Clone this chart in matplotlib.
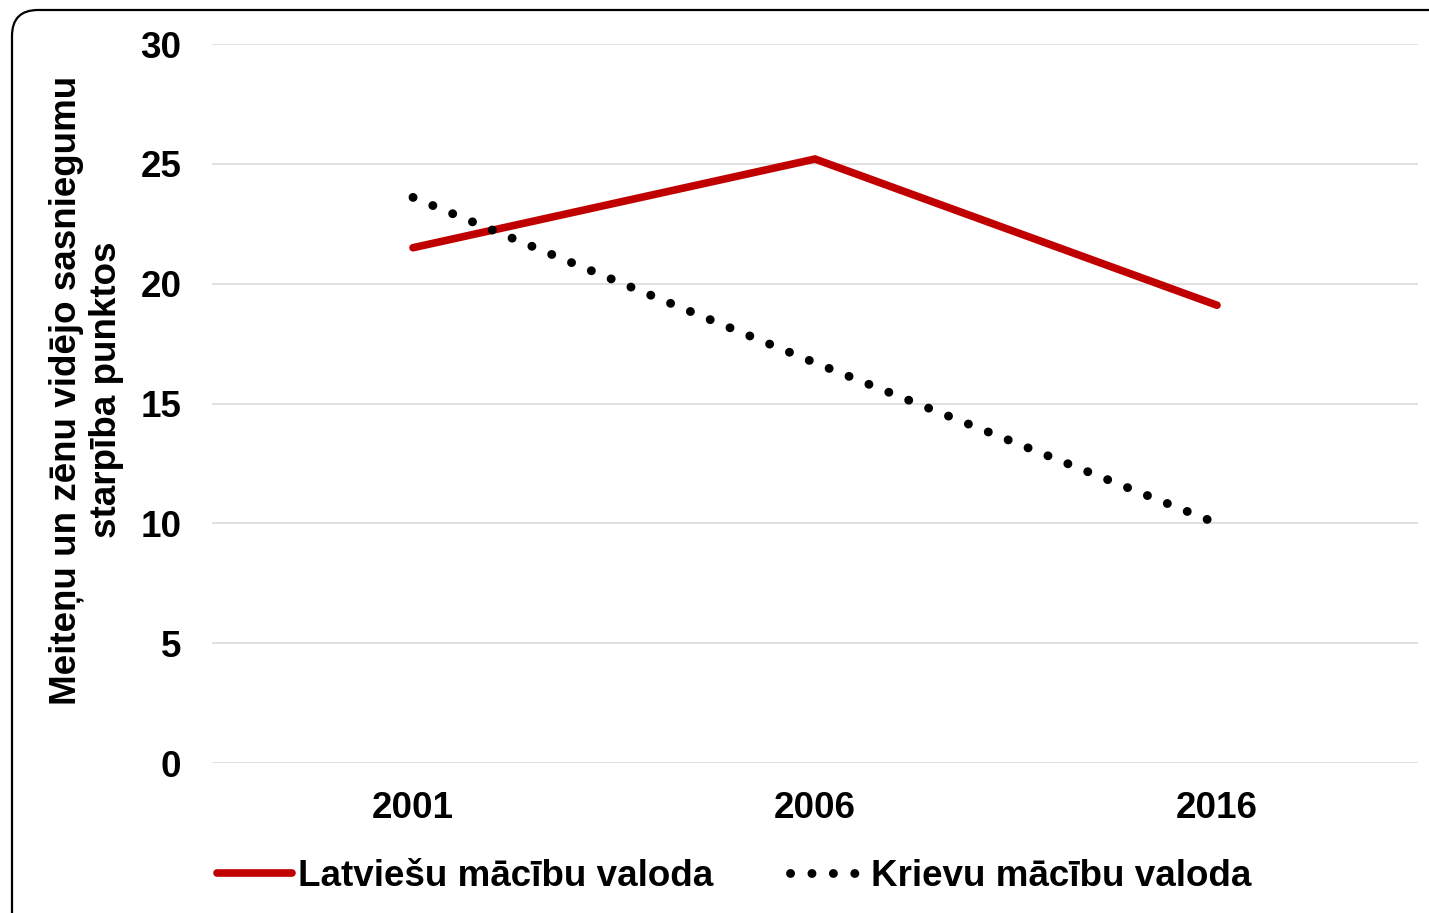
import matplotlib
matplotlib.use("Agg")
import matplotlib.pyplot as plt
from matplotlib.patches import FancyBboxPatch
from matplotlib.transforms import IdentityTransform
from matplotlib.lines import Line2D

years = ["2001", "2006", "2016"]
latvian = [21.5, 25.2, 19.1]
russian = [23.6, 16.7, 10.0]
series_names = ["Latviešu mācību valoda", "Krievu mācību valoda"]
y_label = "Meiteņu un zēnu vidējo sasniegumu\nstarpība punktos"
y_ticks = [0, 5, 10, 15, 20, 25, 30]

plt.rcParams['font.family'] = ['Liberation Sans', 'DejaVu Sans']
plt.rcParams['font.weight'] = 'bold'

FS = 26.5
W, H = 1429, 913
fig = plt.figure(figsize=(W / 100, H / 100), dpi=100)
ax = fig.add_axes([212 / W, 1 - 763 / H, (1418 - 212) / W, (763 - 44) / H])

x = range(len(years))
red = '#c00000'
dots = (0, (0.01, 2.4))
ax.plot(x, latvian, color=red, lw=5.5, solid_capstyle='round',
        solid_joinstyle='miter', label=series_names[0])
ax.plot(x, russian, color='black', lw=6.4, linestyle=dots,
        dash_capstyle='round', label=series_names[1])

ax.set_xlim(-0.5, len(years) - 0.5)
ax.set_ylim(0, 30)
ax.set_xticks(list(x))
ax.set_xticklabels(years)
ax.set_yticks(y_ticks)
ax.tick_params(length=0, labelsize=FS)
ax.tick_params(axis='y', pad=22)
ax.tick_params(axis='x', pad=20)
for lab in ax.get_xticklabels() + ax.get_yticklabels():
    lab.set_fontweight('bold')
ax.grid(axis='y', color='#d9d9d9', lw=1.1)
ax.set_axisbelow(True)
for s in ax.spines.values():
    s.set_visible(False)

fig.text(86 / W, 1 - 390 / H, y_label, rotation=90, ha='center', va='center',
         fontsize=FS, fontweight='bold', linespacing=1.2, multialignment='center')

handles = [Line2D([], [], color=red, lw=5.5, solid_capstyle='round'),
           Line2D([], [], color='black', lw=6.4, linestyle=dots,
                  dash_capstyle='round')]
leg = fig.legend(handles, series_names, loc='center', ncol=2,
                 bbox_to_anchor=(734 / W, 1 - 876 / H), frameon=False,
                 prop={'size': FS, 'weight': 'bold'}, handlelength=2.05,
                 handletextpad=0.15, columnspacing=2.1)

frame = FancyBboxPatch((12, -40), 1460, 903 + 40,
                       boxstyle='round,pad=0,rounding_size=26',
                       transform=IdentityTransform(), fill=False,
                       edgecolor='black', lw=1.6)
fig.patches.append(frame)

fig.savefig('out.png', dpi=100)
